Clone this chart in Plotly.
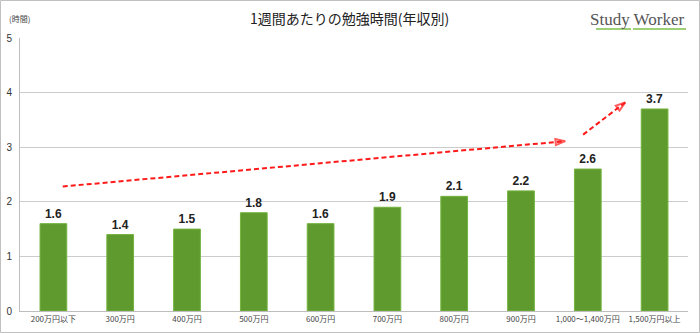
import plotly.graph_objects as go

categories = ["200万円以下", "300万円", "400万円", "500万円", "600万円",
              "700万円", "800万円", "900万円", "1,000～1,400万円", "1,500万円以上"]
hours = [1.6, 1.4, 1.5, 1.8, 1.6, 1.9, 2.1, 2.2, 2.6, 3.7]
y_ticks = [0, 1, 2, 3, 4, 5]

# trend arrows (category index, hours)
arrow1_x = [0.14, 7.66]
arrow1_y = [2.28, 3.11]
arrow2_x = [7.93, 8.56]
arrow2_y = [3.23, 3.82]

idx = list(range(len(categories)))

fig = go.Figure()
fig.add_trace(go.Bar(
    x=idx, y=hours, width=0.4,
    marker=dict(color="#5f9a2e", line=dict(color="#74b33e", width=1)),
    text=[f"{v:.1f}" for v in hours], textposition="outside",
    textfont=dict(family="Liberation Sans, Arial", size=12, color="#222"),
    texttemplate="<b>%{text}</b>", cliponaxis=False, showlegend=False,
))
for ax_, ay_ in ((arrow1_x, arrow1_y), (arrow2_x, arrow2_y)):
    fig.add_trace(go.Scatter(
        x=ax_, y=ay_, mode="lines+markers",
        line=dict(color="#ff1a1a", width=2, dash="5px,3px"),
        marker=dict(symbol=["circle", "arrow-open"], size=[0, 10], angleref="previous",
                    color="#ff1a1a", line=dict(color="#ff1a1a", width=2)),
        showlegend=False, hoverinfo="skip",
    ))

L, R, T, B = 20, 12, 38, 22
W, H = 700, 333
pw, ph = W - L - R, H - T - B

fig.update_layout(
    width=W, height=H,
    margin=dict(l=L, r=R, t=T, b=B, autoexpand=False),
    paper_bgcolor="white", plot_bgcolor="white",
    font=dict(family="Noto Sans CJK JP", color="#333"),
    xaxis=dict(range=[-0.5, len(categories) - 0.5], tickmode="array", tickvals=idx,
               ticktext=categories, tickfont=dict(size=8, color="#444"),
               showgrid=False, showline=True, linecolor="#bdbdbd", linewidth=1,
               ticks="", zeroline=False, automargin=False),
    yaxis=dict(range=[0, 5], tickvals=y_ticks, tickfont=dict(size=10, color="#333",
               family="Liberation Sans, Arial"), ticklabelstandoff=5, automargin=False,
               showgrid=True, gridcolor="#cccccc", gridwidth=1,
               showline=True, linecolor="#bdbdbd", linewidth=1, zeroline=False, ticks=""),
    shapes=[
        dict(type="rect", xref="paper", yref="paper",
             x0=-(L - 0.5) / pw, x1=1 + (R - 0.5) / pw,
             y0=-(B - 0.5) / ph, y1=1 + (T - 0.5) / ph,
             line=dict(color="#c0c0c0", width=1), fillcolor="rgba(0,0,0,0)"),
        dict(type="line", xref="paper", yref="paper",
             x0=(596 - L) / pw, x1=(631 - L) / pw, y0=1 + (T - 29) / ph, y1=1 + (T - 29) / ph,
             line=dict(color="#7cbf4a", width=1.5)),
        dict(type="line", xref="paper", yref="paper",
             x0=(633 - L) / pw, x1=(686 - L) / pw, y0=1 + (T - 29) / ph, y1=1 + (T - 29) / ph,
             line=dict(color="#7cbf4a", width=1.5)),
    ],
    annotations=[
        dict(text="1週間あたりの勉強時間(年収別)", xref="paper", yref="paper",
             x=(349 - L) / pw, y=1 + (T - 18) / ph, xanchor="center", yanchor="middle",
             showarrow=False, font=dict(size=14, color="#222")),
        dict(text="(時間)", xref="paper", yref="paper",
             x=(7 - L) / pw, y=1 + (T - 18) / ph, xanchor="left", yanchor="middle",
             showarrow=False, font=dict(size=8, color="#444")),
        dict(text="Study Worker", xref="paper", yref="paper",
             x=(687 - L) / pw, y=1 + (T - 19) / ph, xanchor="right", yanchor="middle",
             showarrow=False, font=dict(size=17, color="#555", family="Liberation Serif")),
    ],
)

fig.write_html("out.html")
